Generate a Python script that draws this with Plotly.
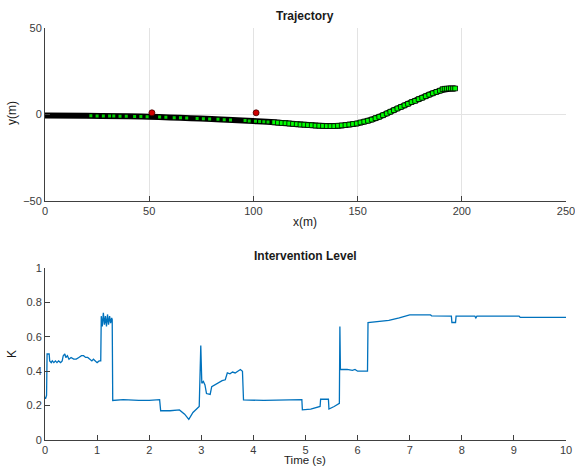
import plotly.graph_objects as go

# ---------------- Trajectory data ----------------
path_x = [0, 20, 40, 50, 60, 70, 80, 90, 100, 110, 120, 130, 136, 140, 145, 150,
          155, 160, 165, 170, 175, 180, 185, 190, 194, 197]
path_y = [-0.6, -0.8, -1.1, -1.4, -1.8, -2.2, -2.7, -3.3, -3.9, -4.6, -5.6, -6.5, -6.8,
          -6.7, -6.1, -5.2, -3.7, -1.6, 1.1, 3.9, 6.6, 9.1, 11.7, 13.9, 14.8, 15.0]

# sparse green patches visible inside the dense black band
left_mx = [22, 25, 28, 31, 33, 36, 39, 43, 46, 49, 55, 58, 62, 65, 68, 73, 76, 79,
           83, 86, 89, 96, 98, 101, 103, 105, 107]
left_my = [-0.8, -0.9, -0.9, -1.0, -1.0, -1.1, -1.1, -1.2, -1.3, -1.4, -1.6, -1.7, -1.9,
           -2.0, -2.1, -2.4, -2.5, -2.7, -2.9, -3.1, -3.2, -3.6, -3.8, -4.0, -4.1, -4.3, -4.4]

# distinct green squares on the right part
right_mx = [110.0, 111.8, 113.6, 115.4, 117.2, 119.0, 120.8, 122.6, 124.4, 126.2, 128.0,
            129.8, 131.6, 133.4, 135.2, 137.0, 138.8, 140.6, 142.4, 144.2, 146.0, 147.8,
            149.6, 151.4, 153.2, 155.0, 156.8, 158.6, 160.4, 162.2, 164.0, 165.7, 167.4,
            169.1, 170.8, 172.5, 174.2, 175.9, 177.6, 179.3, 181.0, 182.7, 184.4, 186.1,
            187.8, 189.5, 190.8, 191.8, 192.8, 193.8, 194.8, 195.8, 196.8]
right_my = [-4.6, -4.8, -5.0, -5.1, -5.3, -5.5, -5.7, -5.9, -6.0, -6.2, -6.3,
            -6.5, -6.6, -6.7, -6.8, -6.8, -6.8, -6.6, -6.4, -6.2, -5.9, -5.6,
            -5.3, -4.7, -4.2, -3.7, -3.0, -2.2, -1.4, -0.5, 0.5, 1.5, 2.4,
            3.4, 4.3, 5.2, 6.1, 7.1, 7.8, 8.8, 9.6, 10.5, 11.4, 12.2,
            13.0, 13.7, 14.6, 14.8, 14.9, 15.0, 15.0, 15.0, 15.0]

red_x = [51.3, 101.3]
red_y = [0.9, 0.9]

x_ticks_top = [0, 50, 100, 150, 200, 250]
y_ticks_top = [-50, 0, 50]

# ---------------- Intervention level data ----------------
t = [0.00, 0.01, 0.03, 0.04, 0.08, 0.09, 0.12, 0.14, 0.17, 0.20, 0.23, 0.26, 0.30, 0.33,
     0.35, 0.38, 0.40, 0.43, 0.46, 0.50, 0.55, 0.60, 0.65, 0.70, 0.74, 0.78, 0.82, 0.86,
     0.90, 0.93, 0.96, 1.00, 1.04, 1.07, 1.08, 1.10, 1.12, 1.14, 1.16, 1.18, 1.20, 1.22,
     1.24, 1.26, 1.28, 1.29, 1.30, 1.50, 1.80, 2.00, 2.20, 2.22, 2.40, 2.58, 2.68, 2.76,
     2.84, 2.96, 2.99, 3.01, 3.04, 3.07, 3.10, 3.17, 3.20, 3.25, 3.30, 3.35, 3.40, 3.46,
     3.50, 3.55, 3.60, 3.65, 3.70, 3.75, 3.79, 3.81, 4.20, 4.60, 4.93, 4.94, 5.10, 5.28,
     5.29, 5.44, 5.45, 5.55, 5.65, 5.66, 5.67, 5.80, 5.90, 5.95, 6.00, 6.10, 6.19, 6.20,
     6.40, 6.60, 6.80, 7.00, 7.40, 7.42, 7.80, 7.81, 7.88, 7.89, 8.25, 8.27, 8.29, 9.10,
     9.12, 10.0]
K = [0.25, 0.24, 0.26, 0.50, 0.50, 0.46, 0.45, 0.46, 0.45, 0.46, 0.45, 0.46, 0.45, 0.46,
     0.49, 0.50, 0.48, 0.49, 0.47, 0.48, 0.47, 0.47, 0.48, 0.49, 0.49, 0.48, 0.48, 0.47,
     0.46, 0.47, 0.46, 0.45, 0.46, 0.46, 0.72, 0.66, 0.74, 0.67, 0.72, 0.66, 0.73, 0.67,
     0.72, 0.68, 0.71, 0.70, 0.23, 0.235, 0.23, 0.23, 0.235, 0.17, 0.17, 0.175, 0.15, 0.12,
     0.16, 0.195, 0.55, 0.33, 0.34, 0.32, 0.27, 0.265, 0.31, 0.32, 0.33, 0.34, 0.345, 0.35,
     0.39, 0.385, 0.395, 0.39, 0.40, 0.41, 0.40, 0.233, 0.23, 0.235, 0.235, 0.175, 0.18, 0.195,
     0.237, 0.237, 0.18, 0.195, 0.213, 0.66, 0.41, 0.41, 0.405, 0.41, 0.40, 0.40, 0.40, 0.683,
     0.688, 0.695, 0.71, 0.728, 0.727, 0.722, 0.72, 0.683, 0.683, 0.72, 0.72, 0.71, 0.72, 0.72,
     0.713, 0.713]

x_ticks_bot = list(range(0, 11))
y_ticks_bot = [0, 0.2, 0.4, 0.6, 0.8, 1]
y_ticklabels_bot = ["0", "0.2", "0.4", "0.6", "0.8", "1"]

# ---------------- Figure ----------------
W, H = 575, 467
FONT = "Liberation Sans, Arial, Helvetica, sans-serif"
AX = "#404040"

fig = go.Figure()

fig.add_trace(go.Scatter(x=path_x, y=path_y, mode="lines",
                         line=dict(color="black", width=6, shape="spline"),
                         xaxis="x", yaxis="y", hoverinfo="skip"))
fig.add_trace(go.Scatter(x=left_mx, y=left_my, mode="markers",
                         marker=dict(symbol="square", size=3, color="#00d000", line=dict(width=0)),
                         xaxis="x", yaxis="y"))
fig.add_trace(go.Scatter(x=right_mx, y=right_my, mode="markers",
                         marker=dict(symbol="square", size=4.8, color="#00ff00",
                                     line=dict(width=0.8, color="black")),
                         xaxis="x", yaxis="y"))
fig.add_trace(go.Scatter(x=red_x, y=red_y, mode="markers",
                         marker=dict(symbol="circle", size=6, color="#d00000",
                                     line=dict(width=0.8, color="#400000")),
                         xaxis="x", yaxis="y"))

fig.add_trace(go.Scatter(x=t, y=K, mode="lines",
                         line=dict(color="#0072BD", width=1.3),
                         xaxis="x2", yaxis="y2"))

xd = [45 / W, 566 / W]
yd_top = [1 - 200.7 / H, 1 - 28 / H]
yd_bot = [1 - 440 / H, 1 - 268 / H]

common = dict(ticks="inside", ticklen=5, tickcolor=AX, showline=True, linecolor=AX,
              linewidth=1, zeroline=False, automargin=False, ticklabeloverflow="allow",
              tickfont=dict(family=FONT, size=11, color="#3a3a3a"))

fig.update_layout(
    width=W, height=H, margin=dict(l=0, r=0, t=0, b=0, autoexpand=False),
    paper_bgcolor="white", plot_bgcolor="white", showlegend=False,
    xaxis=dict(domain=xd, anchor="y", range=[0, 250], tickvals=x_ticks_top,
               showgrid=True, gridcolor="#e3e3e3", gridwidth=1, **common),
    yaxis=dict(domain=yd_top, anchor="x", range=[-50, 50], tickvals=y_ticks_top,
               showgrid=True, gridcolor="#e3e3e3", gridwidth=1, **common),
    xaxis2=dict(domain=xd, anchor="y2", range=[0, 10], tickvals=x_ticks_bot,
                showgrid=False, **common),
    yaxis2=dict(domain=yd_bot, anchor="x2", range=[0, 1], tickvals=y_ticks_bot,
                ticktext=y_ticklabels_bot, showgrid=False, **common),
)

def ann(text, x, y, size=11, bold=False, angle=0, yanchor="middle"):
    fig.add_annotation(text=f"<b>{text}</b>" if bold else text, x=x / W, y=1 - y / H,
                       xref="paper", yref="paper", showarrow=False, textangle=angle,
                       font=dict(family=FONT, size=size, color="#1a1a1a"),
                       xanchor="center", yanchor=yanchor, borderpad=0)

ann("Trajectory", 305, 16, size=12, bold=True)
ann("Intervention Level", 305, 256, size=12, bold=True)
ann("x(m)", 305, 222, size=12)
ann("Time (s)", 305, 467, size=11.5, yanchor="bottom")
ann("y(m)", 12, 113, size=12, angle=-90)
ann("K", 12, 354, size=12, angle=-90)

fig.write_html("out.html", config={"displayModeBar": False},
               post_script="document.body.style.margin='0';document.body.style.overflow='hidden';")
